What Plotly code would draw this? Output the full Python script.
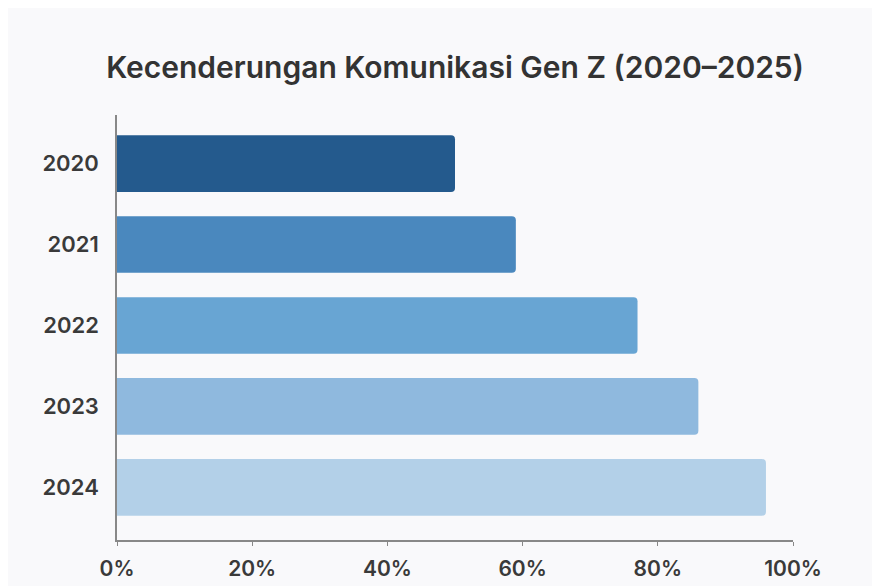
import plotly.graph_objects as go

years = ["2020", "2021", "2022", "2023", "2024"]
values = [50, 59, 77, 86, 96]
colors = ["#245a8d", "#4a88be", "#68a5d3", "#8fb9de", "#b3d0e8"]
x_ticks = [0, 20, 40, 60, 80, 100]
x_tick_labels = ["0%", "20%", "40%", "60%", "80%", "100%"]
title = "Kecenderungan Komunikasi Gen Z (2020–2025)"

fig = go.Figure(go.Bar(
    y=years, x=values, orientation="h",
    marker=dict(color=colors, line=dict(width=0), cornerradius=4),
    width=0.7,
    hoverinfo="x+y",
))

fig.update_layout(
    width=880, height=586,
    paper_bgcolor="#f9f9fb", plot_bgcolor="#f9f9fb",
    margin=dict(l=109, r=95, t=107, b=54),
    title=dict(text=title, x=0.508, xanchor="center", y=0.898, yanchor="middle",
               font=dict(family="Inter, Roboto, sans-serif", size=30, color="#333333", weight=600)),
    showlegend=False,
    font=dict(family="Inter, Roboto, sans-serif", color="#333333"),
)
fig.update_xaxes(
    range=[0, 100], tickvals=x_ticks, ticktext=x_tick_labels,
    showgrid=False, zeroline=False,
    showline=True, linecolor="#888888", linewidth=1.5,
    ticks="outside", ticklen=4, tickcolor="#888888",
    tickfont=dict(size=21, color="#3a3a3a", weight=600),
    ticklabelstandoff=5,
)
fig.update_yaxes(
    type="category", categoryorder="array", categoryarray=years,
    range=[4.65, -0.6],
    showgrid=False, zeroline=False,
    showline=True, linecolor="#888888", linewidth=1.5,
    ticks="", tickfont=dict(size=22, color="#3a3a3a", weight=600),
    ticklabelstandoff=12,
)

fig.write_html("out.html")
